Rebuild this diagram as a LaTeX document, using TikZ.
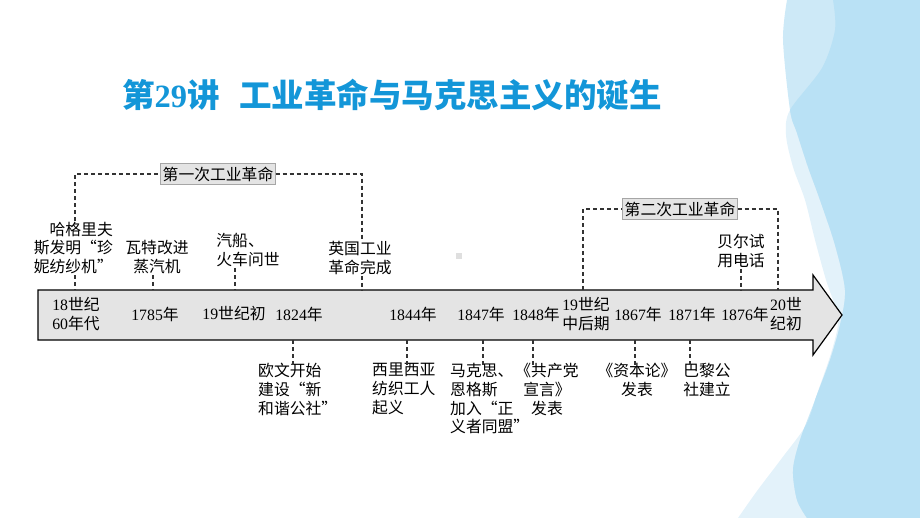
\documentclass[tikz,border=0pt]{standalone}
\usepackage{fontspec}
\setmainfont{Liberation Serif}
\newfontfamily\cjk{Noto Sans CJK SC}
\definecolor{arrowgray}{HTML}{E4E4E4}
\definecolor{titleblue}{HTML}{1396D8}
\definecolor{dashgray}{HTML}{333333}
\definecolor{wavepale}{HTML}{E3F2FA}
\definecolor{wavemid}{HTML}{CDE9F7}
\definecolor{wavedark}{HTML}{B9E1F5}
\newcommand\dg[1]{{\rmfamily #1}}
\tikzset{
  lbl/.style={font=\cjk\fontsize{15.8}{18.8}\selectfont, inner sep=1pt, align=center},
  era/.style={lbl, fill=arrowgray, draw=gray!70, line width=0.5pt, inner sep=2pt, minimum height=21pt},
  dashline/.style={dashgray, line width=1.1pt, dash pattern=on 4pt off 3pt},
}

\begin{document}
\begin{tikzpicture}[x=1pt, y=-1pt]
\useasboundingbox (0,0) rectangle (920,518);
% background waves
\fill[wavepale] plot[smooth] coordinates {(833,0) (835,30) (822,68) (790,110) (786,135) (793,167) (805,200) (815,240) (826,280) (838,318) (832,350) (818,391) (806,425) (782,458) (757,491) (738,518)} -- (920,518) -- (920,0) -- cycle;
\fill[wavemid] plot[smooth] coordinates {(787,0) (783,40) (790,110) (797,133) (808,167) (820,200) (835,245) (845,290) (840,325) (830,360) (815,400) (800,440) (793,470) (797,500) (807,518)} -- (920,518) -- (920,0) -- cycle;
\begin{scope}
\clip plot[smooth] coordinates {(833,0) (835,30) (822,68) (790,110) (786,135) (793,167) (805,200) (815,240) (826,280) (838,318) (832,350) (818,391) (806,425) (782,458) (757,491) (738,518)} -- (920,518) -- (920,0) -- cycle;
\fill[wavedark] plot[smooth] coordinates {(787,0) (783,40) (790,110) (797,133) (808,167) (820,200) (835,245) (845,290) (840,325) (830,360) (815,400) (800,440) (793,470) (797,500) (807,518)} -- (920,518) -- (920,0) -- cycle;
\end{scope}

\node[anchor=west, text=titleblue, font=\cjk\bfseries\fontsize{32.5}{32.5}\selectfont, inner sep=0pt] (title) at (122,95) {第\dg{29}讲\hspace{0.6em}工业革命与马克思主义的诞生};

% time arrow
\draw[fill=arrowgray, line width=1.2pt] (38,290) -- (813,290) -- (813,275) -- (842,315) -- (813,355) -- (813,340) -- (38,340) -- cycle;
\fill[gray!25] (456,253) rectangle (462,259);

\node[lbl] (d1760s) at (76,314) {\dg{18}世纪\\\dg{60}年代};
\node[lbl] (d1785) at (155,314) {\dg{1785}年};
\node[lbl] (d1800s) at (234,314) {\dg{19}世纪初};
\node[lbl] (d1824) at (299,314) {\dg{1824}年};
\node[lbl] (d1844) at (413,314) {\dg{1844}年};
\node[lbl] (d1847) at (481,314) {\dg{1847}年};
\node[lbl] (d1848) at (536,314) {\dg{1848}年};
\node[lbl] (d1850s) at (586,314) {\dg{19}世纪\\中后期};
\node[lbl] (d1867) at (638,314) {\dg{1867}年};
\node[lbl] (d1871) at (692,314) {\dg{1871}年};
\node[lbl] (d1876) at (745,314) {\dg{1876}年};
\node[lbl] (d1900s) at (786,314) {\dg{20}世\\纪初};

% events above
\node[lbl, align=right, anchor=east] (hargreaves) at (114,248) {哈格里夫\\斯发明“珍\\妮纺纱机”};
\node[lbl] (watt) at (157,257) {瓦特改进\\蒸汽机};
\node[lbl, align=left] (steamship) at (248,250) {汽船、\\火车问世};
\node[lbl] (britain) at (360,258) {英国工业\\革命完成};
\node[lbl] (bell) at (741,251) {贝尔试\\用电话};

% events below
\node[lbl, align=left, anchor=north west] (owen) at (257,362) {欧文开始\\建设“新\\和谐公社”};
\node[lbl, align=left, anchor=north west] (silesia) at (371,362) {西里西亚\\纺织工人\\起义};
\node[lbl, align=left, anchor=north west] (marx) at (449,362) {马克思、\\恩格斯\\加入“正\\义者同盟”};
\node[lbl, anchor=north] (manifesto) at (547,362) {《共产党\\宣言》\\发表};
\node[lbl, anchor=north] (capital) at (637,362) {《资本论》\\发表};
\node[lbl, anchor=north] (commune) at (707,362) {巴黎公\\社建立};

\node[era] (first) at (218,174) {第一次工业革命};
\node[era] (second) at (680,209) {第二次工业革命};

\coordinate (t-harg) at (75,290);
\coordinate (t-watt) at (153,290);
\coordinate (t-steam) at (235,290);
\coordinate (t-brit) at (362,290);
\coordinate (t-bell) at (741,290);
\coordinate (t-b2l) at (583,290);
\coordinate (t-b2r) at (778,290);
\coordinate (t-owen) at (293,340);
\coordinate (t-silesia) at (407,340);
\coordinate (t-marx) at (483,340);
\coordinate (t-manif) at (533,340);
\coordinate (t-capital) at (635,340);
\coordinate (t-commune) at (690,340);

% brackets and ticks
\draw[dashline] (hargreaves.north -| t-harg) |- (first) -| (britain.north -| t-brit);
\draw[dashline] (t-b2l) |- (second) -| (t-b2r);
\draw[dashline] (hargreaves.south -| t-harg) -- (t-harg);
\draw[dashline] (watt.south -| t-watt) -- (t-watt);
\draw[dashline] (steamship.south -| t-steam) -- (t-steam);
\draw[dashline] (britain.south -| t-brit) -- (t-brit);
\draw[dashline] (bell.south -| t-bell) -- (t-bell);
\draw[dashline] (t-owen) -- ([yshift=-3pt]owen.north -| t-owen);
\draw[dashline] (t-silesia) -- ([yshift=-3pt]silesia.north -| t-silesia);
\draw[dashline] (t-marx) -- ([yshift=-3pt]marx.north -| t-marx);
\draw[dashline] (t-manif) -- ([yshift=-3pt]manifesto.north -| t-manif);
\draw[dashline] (t-capital) -- ([yshift=-3pt]capital.north -| t-capital);
\draw[dashline] (t-commune) -- ([yshift=-3pt]commune.north -| t-commune);
\end{tikzpicture}
\end{document}
